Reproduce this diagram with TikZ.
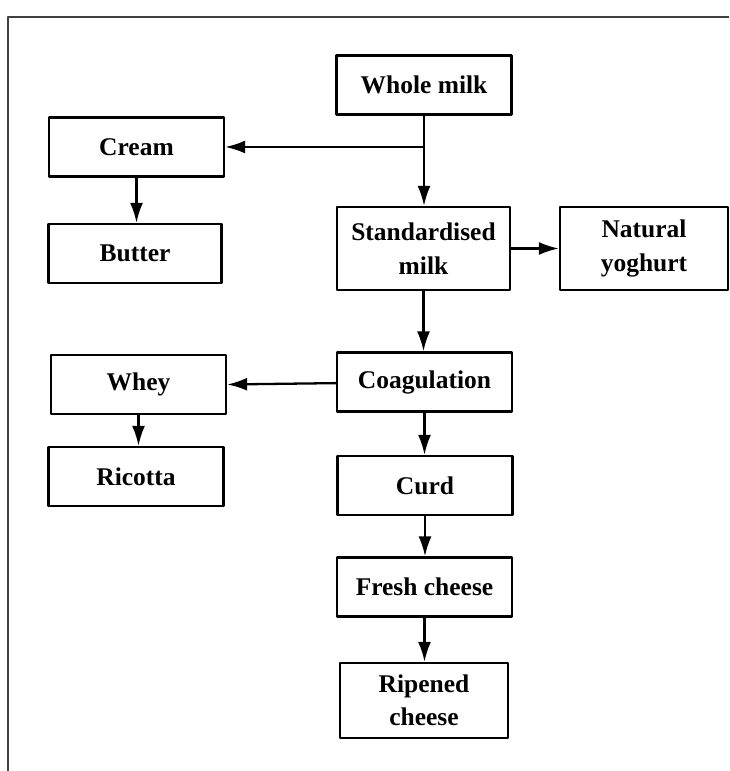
\documentclass[tikz,border=0pt]{standalone}
\usepackage{fontspec}
\setmainfont{Liberation Serif}
\usetikzlibrary{arrows.meta,positioning}
\begin{document}
\begin{tikzpicture}[font=\bfseries\fontsize{14.5}{19}\selectfont, line join=round, >={Latex[length=4mm,width=2.6mm]}]
			\tikzset{box/.style={draw=black,line width=1.3pt,minimum width=3.5cm,minimum height=1.18cm,align=center,inner sep=2pt}}
			\tikzset{tall/.style={box,minimum height=1.66cm}}
			\useasboundingbox(0,0)rectangle(14.58,15.42);
			% frame of the figure
			\draw[line width=1pt,black!75](0.16,0)--(0.16,15.08)--(14.58,15.08);
			\path(8.48,13.72)node[box](milk){Whole milk};
			\path(2.73,12.48)node[box](cream){Cream};
			\path(2.70,10.35)node[box,minimum width=3.46cm](butter){Butter};
			\path(8.47,10.45)node[tall,minimum width=3.46cm](std){Standardised\\milk};
			\path(12.88,10.45)node[tall,minimum width=3.36cm](yog){Natural\\yoghurt};
			\path(8.49,7.78)node[box](coag){Coagulation};
			\path(2.77,7.73)node[box](whey){Whey};
			\path(2.72,5.89)node[box](ric){Ricotta};
			\path(8.50,5.71)node[box](curd){Curd};
			\path(8.49,3.68)node[box](fresh){Fresh cheese};
			\path(8.48,1.41)node[box,minimum width=3.36cm,minimum height=1.5cm](ripe){Ripened\\cheese};
			\coordinate(split)at(milk.south|-cream.east);
			\draw[line width=1.3pt](milk.south)--(split);
			\foreach \x/\y in {
				split/std,cream/butter,
				std/coag,whey/ric,
				coag/curd,curd/fresh,fresh/ripe}
			\draw[->,line width=1.3pt](\x|-\x.south)--(\x|-\y.north);
			\foreach \x/\y in {
				split/cream,coag/whey}
			\draw[->,line width=1.3pt](\x)--(\y.east);
			\draw[->,line width=1.3pt](std.east)--(yog.west);
		\end{tikzpicture}
\end{document}
